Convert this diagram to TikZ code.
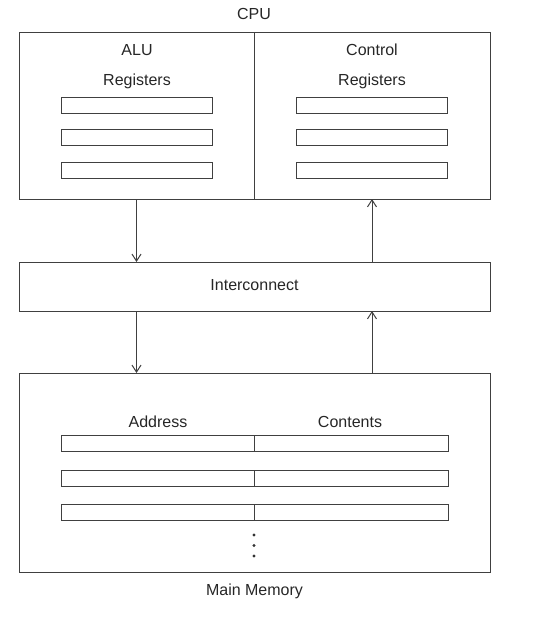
\documentclass[tikz,border=0pt]{standalone}
\usepackage{fontspec}
\setmainfont{Liberation Sans}
\usetikzlibrary{arrows.meta}

\begin{document}
\begin{tikzpicture}[x=1pt,y=-1pt,line width=1pt,draw=black!75,
  every node/.style={inner sep=0pt,outer sep=0pt,font=\fontsize{16}{19}\selectfont,text=black!85},
  box/.style={draw,minimum height=#1},
  reg/.style={draw,minimum width=151,minimum height=16},
  cell/.style={draw,minimum height=16},
  flow/.style={-{Straight Barb[length=7pt,width=9pt]}}]

\useasboundingbox (0,0) rectangle (552,619);

% ( CPU split into its two halves )
\path
(136.5,115.5) node[box=167,minimum width=235](alu){}
(372,115.5) node[box=167,minimum width=236](ctl){};
\path
(254,14) node(cpu){CPU}
(137,50) node(alut){ALU} (372,50) node(ctlt){Control}
(137,81) node(alur){Registers} (372,81) node(ctlr){Registers};

\path
(136.5,105) node[reg](ar1){} (136.5,137.5) node[reg](ar2){} (136.5,170.5) node[reg](ar3){}
(372,105) node[reg](cr1){} (372,137.5) node[reg](cr2){} (372,170.5) node[reg](cr3){};

% interconnect
\path (254.5,286.5) node[box=49,minimum width=471](ic){};
\path (254.5,285) node(ict){Interconnect};

% main memory
\path (254.5,472.5) node[box=199,minimum width=471](mem){};
\path
(158,422) node(addr){Address} (350,422) node(cont){Contents}
(254.5,591) node(memt){Main Memory};

\path
(157.5,443.5) node[cell,minimum width=193](a1){} (351,443.5) node[cell,minimum width=194](c1){}
(157.5,478) node[cell,minimum width=193](a2){} (351,478) node[cell,minimum width=194](c2){}
(157.5,512.5) node[cell,minimum width=193](a3){} (351,512.5) node[cell,minimum width=194](c3){};

\fill[black!80] (254,535) circle (1.7) (254,545.5) circle (1.7) (254,556) circle (1.7);

% buses
\draw[flow] (alu.south) -- (alu.south |- ic.north);
\draw[flow] (ic.north -| ctl.south) -- (ctl.south);
\draw[flow] (ic.south -| alu.south) -- (mem.north -| alu.south);
\draw[flow] (mem.north -| ctl.south) -- (ic.south -| ctl.south);
\end{tikzpicture}
\end{document}
